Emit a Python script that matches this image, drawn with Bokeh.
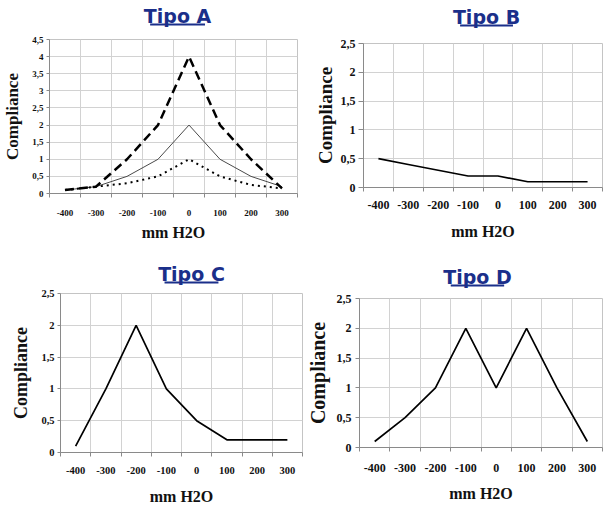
from bokeh.plotting import figure
from bokeh.layouts import column, row
from bokeh.models import FixedTicker, Range1d
from bokeh.core.properties import value
from bokeh.embed import file_html
from bokeh.resources import INLINE

# ---------------- data ----------------
pressure = [-400, -300, -200, -100, 0, 100, 200, 300]
pressure_labels = ["-400", "-300", "-200", "-100", "0", "100", "200", "300"]
grid_positions = [-350, -250, -150, -50, 50, 150, 250]
edge_ticks = [-450, -350, -250, -150, -50, 50, 150, 250, 350]

a_high = [0.1, 0.2, 1.0, 2.0, 4.0, 2.0, 1.0, 0.15]
a_mid = [0.1, 0.2, 0.5, 1.0, 2.0, 1.0, 0.5, 0.2]
a_low = [0.1, 0.2, 0.3, 0.5, 1.0, 0.5, 0.25, 0.15]
b_vals = [0.5, 0.4, 0.3, 0.2, 0.2, 0.1, 0.1, 0.1]
c_vals = [0.1, 1.0, 2.0, 1.0, 0.5, 0.2, 0.2, 0.2]
d_vals = [0.1, 0.5, 1.0, 2.0, 1.0, 2.0, 1.0, 0.1]

a_yticks = [0, 0.5, 1, 1.5, 2, 2.5, 3, 3.5, 4, 4.5]
a_ylabels = ["0", "0,5", "1", "1,5", "2", "2,5", "3", "3,5", "4", "4,5"]
bcd_yticks = [0, 0.5, 1, 1.5, 2, 2.5]
bcd_ylabels = ["0", "0,5", "1", "1,5", "2", "2,5"]

titles = ["Tipo A", "Tipo B", "Tipo C", "Tipo D"]
y_title = "Compliance"
x_title = "mm H2O"

TITLE_COLOR = "#1b2f8a"
SERIF = "Liberation Serif"
TEXT_SHIFT = 6  # compensation of the text glyph's vertical placement


def make_title(text, w, h, cx, base_up, fs):
    t = figure(width=w, height=h, x_range=Range1d(0, w), y_range=Range1d(0, h),
               x_axis_location=None, y_axis_location=None, title=None,
               min_border_left=0, min_border_right=0, min_border_top=0, min_border_bottom=0,
               output_backend="svg", toolbar_location=None)
    t.outline_line_color = None
    t.grid.visible = False
    t.background_fill_color = "white"
    t.border_fill_color = "white"
    t.text(x=[cx], y=[base_up + TEXT_SHIFT], text=[text], text_font=value("DejaVu Sans"),
           text_font_style="bold", text_font_size=value(f"{fs}px"),
           text_color=TITLE_COLOR, text_align="center", text_baseline="alphabetic")
    half = 1.776 * fs
    t.quad(left=[cx - half], right=[cx + half], top=[base_up - 2], bottom=[base_up - 4],
           fill_color=TITLE_COLOR, line_color=None)
    return t


def make_panel(yticks, ylabels, g):
    p = figure(title=None, width=g["w"], height=g["h"],
               min_border_left=g["lb"], min_border_right=g["rb"],
               min_border_top=g["tb"], min_border_bottom=g["bb"],
               x_range=Range1d(-450, 350), y_range=Range1d(0, yticks[-1]),
               output_backend="svg", toolbar_location=None)
    p.background_fill_color = "white"
    p.border_fill_color = "white"
    p.outline_line_color = "#c4c4c4"

    p.xgrid.ticker = FixedTicker(ticks=grid_positions)
    p.ygrid.ticker = FixedTicker(ticks=yticks)
    p.xgrid.grid_line_color = "#d2d2d2"
    p.ygrid.grid_line_color = "#d2d2d2"

    xa = p.xaxis[0]
    xa.ticker = FixedTicker(ticks=pressure, minor_ticks=edge_ticks)
    xa.major_label_overrides = {v: s for v, s in zip(pressure, pressure_labels)}
    xa.major_tick_out = 0
    xa.major_tick_in = 0
    xa.minor_tick_out = 4
    xa.minor_tick_in = 0
    xa.minor_tick_line_color = "#8a8a8a"
    xa.axis_line_color = "#8a8a8a"
    xa.major_label_text_font = SERIF
    xa.major_label_text_font_style = "bold"
    xa.major_label_text_font_size = g["tick_fs"]
    xa.major_label_text_color = "#111111"
    xa.major_label_standoff = g["x_ls"]
    xa.axis_label = x_title
    xa.axis_label_text_font = SERIF
    xa.axis_label_text_font_style = "bold"
    xa.axis_label_text_font_size = g["xl_fs"]
    xa.axis_label_text_color = "#111111"
    xa.axis_label_standoff = g["x_as"]

    ya = p.yaxis[0]
    ya.ticker = FixedTicker(ticks=yticks)
    ya.major_label_overrides = {v: s for v, s in zip(yticks, ylabels)}
    ya.major_tick_out = g["y_to"]
    ya.major_tick_in = 0
    ya.minor_tick_out = 0
    ya.minor_tick_in = 0
    ya.major_tick_line_color = "#8a8a8a"
    ya.axis_line_color = "#8a8a8a"
    ya.major_label_text_font = SERIF
    ya.major_label_text_font_style = "bold"
    ya.major_label_text_font_size = g["tick_fs"]
    ya.major_label_text_color = "#111111"
    ya.major_label_standoff = g["y_ls"]
    ya.axis_label = y_title
    ya.axis_label_text_font = SERIF
    ya.axis_label_text_font_style = "bold"
    ya.axis_label_text_font_size = g["yl_fs"]
    ya.axis_label_text_color = "#111111"
    ya.axis_label_standoff = g["y_as"]
    return p


# layout geometry (pixels)
gA = dict(w=305, h=223, lb=47, rb=8, tb=7, bb=62,
          tick_fs="9px", xl_fs="16px", yl_fs="17px", x_ls=12, x_as=5,
          y_to=3, y_ls=3, y_as=7)
gB = dict(w=305, h=223, lb=58, rb=8, tb=11, bb=68,
          tick_fs="12px", xl_fs="16px", yl_fs="19px", x_ls=9, x_as=11,
          y_to=5, y_ls=3, y_as=2)
gC = dict(w=303, h=218, lb=60, rb=1, tb=4, bb=55,
          tick_fs="10.5px", xl_fs="16px", yl_fs="18px", x_ls=10, x_as=11,
          y_to=3, y_ls=3, y_as=7)
gD = dict(w=307, h=218, lb=51, rb=8, tb=9, bb=60,
          tick_fs="12px", xl_fs="16px", yl_fs="20px", x_ls=12, x_as=10,
          y_to=4, y_ls=4, y_as=5)

tA = make_title(titles[0], 305, 32, 157.5, 11, 19)
tB = make_title(titles[1], 305, 32, 157, 10, 19)
tC = make_title(titles[2], 303, 34, 164, 10, 19)
tD = make_title(titles[3], 307, 34, 149, 7, 19)

pA = make_panel(a_yticks, a_ylabels, gA)
pA.line(pressure, a_mid, line_color="#4a4a4a", line_width=1)
pA.line(pressure, a_low, line_color="black", line_width=2, line_dash="2 4")
pA.line(pressure, a_high, line_color="black", line_width=2.5, line_dash="9 5")

pB = make_panel(bcd_yticks, bcd_ylabels, gB)
pB.line(pressure, b_vals, line_color="black", line_width=1.7)

pC = make_panel(bcd_yticks, bcd_ylabels, gC)
pC.line(pressure, c_vals, line_color="black", line_width=1.7)

pD = make_panel(bcd_yticks, bcd_ylabels, gD)
pD.line(pressure, d_vals, line_color="black", line_width=1.7)

layout = column(row(column(tA, pA), column(tB, pB)),
                row(column(tC, pC), column(tD, pD)))

open("out.html", "w").write(file_html(layout, INLINE))
